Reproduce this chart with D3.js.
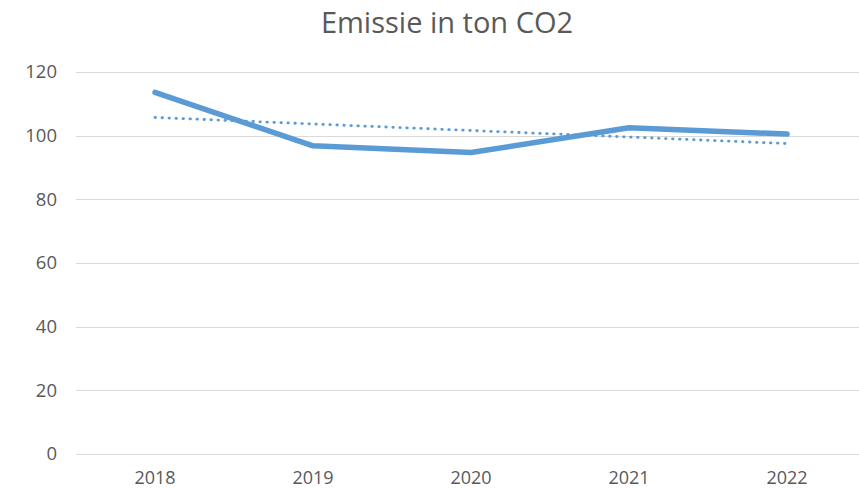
<!DOCTYPE html>
<html>
<head>
<meta charset="utf-8">
<script src="https://cdn.jsdelivr.net/npm/d3@7"></script>
<style>
  body { margin: 0; background: #fff; }
  svg { display: block; font-family: "Open Sans", sans-serif; }
</style>
</head>
<body>
<div id="chart"></div>
<script>
const years = ["2018", "2019", "2020", "2021", "2022"];
const emissions = [113.6, 96.8, 94.7, 102.5, 100.5];
const yTicks = [0, 20, 40, 60, 80, 100, 120];
const title = "Emissie in ton CO2";

const width = 859, height = 490;

const svg = d3.select("#chart")
  .append("svg")
  .attr("width", width)
  .attr("height", height);

const x = d3.scaleBand()
  .domain(years)
  .range([76, 866]);

const y = d3.scaleLinear()
  .domain([0, 120])
  .range([454, 72]);

// gridlines
svg.append("g")
  .selectAll("line")
  .data(yTicks)
  .enter()
  .append("line")
  .attr("x1", 76)
  .attr("x2", width)
  .attr("y1", d => Math.round(y(d)) + 0.5)
  .attr("y2", d => Math.round(y(d)) + 0.5)
  .attr("stroke", "#d9d9d9")
  .attr("stroke-width", 1);

// y labels
svg.append("g")
  .selectAll("text")
  .data(yTicks)
  .enter()
  .append("text")
  .attr("x", 57)
  .attr("y", d => y(d))
  .attr("dy", "0.35em")
  .attr("text-anchor", "end")
  .attr("font-size", 18.5)
  .attr("fill", "#595959")
  .text(d => d);

// x labels
svg.append("g")
  .selectAll("text")
  .data(years)
  .enter()
  .append("text")
  .attr("x", d => x(d) + x.bandwidth() / 2)
  .attr("y", 478)
  .attr("dy", "0.35em")
  .attr("text-anchor", "middle")
  .attr("font-size", 18)
  .attr("fill", "#595959")
  .text(d => d);

// linear trend (least squares, as in the source chart)
const meanI = d3.mean(emissions, (d, i) => i);
const meanV = d3.mean(emissions);
const slope = d3.sum(emissions, (d, i) => (i - meanI) * (d - meanV)) /
              d3.sum(emissions, (d, i) => (i - meanI) * (i - meanI));
const trend = years.map((yr, i) => meanV + slope * (i - meanI));

const line = d3.line()
  .x((d, i) => x(years[i]) + x.bandwidth() / 2)
  .y(d => y(d));

svg.append("path")
  .datum(trend)
  .attr("d", line)
  .attr("fill", "none")
  .attr("stroke", "#5b9bd5")
  .attr("stroke-width", 2.8)
  .attr("stroke-linecap", "round")
  .attr("stroke-dasharray", "0.5 6.5");

svg.append("path")
  .datum(emissions)
  .attr("d", line)
  .attr("fill", "none")
  .attr("stroke", "#5b9bd5")
  .attr("stroke-width", 5.5)
  .attr("stroke-linejoin", "round")
  .attr("stroke-linecap", "round");

// title
svg.append("text")
  .attr("x", 447)
  .attr("y", 33)
  .attr("text-anchor", "middle")
  .attr("font-size", 29)
  .attr("fill", "#595959")
  .text(title);
</script>
</body>
</html>
